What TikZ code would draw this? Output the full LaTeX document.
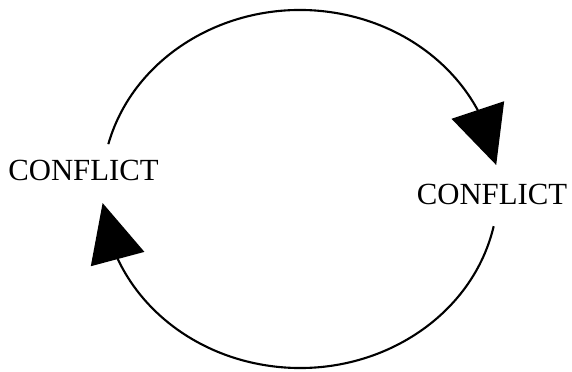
\documentclass[tikz,border=0pt]{standalone}
\usepackage{fontspec}
\setmainfont{Liberation Serif}
\usepackage{tikz}
\usetikzlibrary{arrows.meta,bending,calc,positioning}

\begin{document}
\begin{tikzpicture}[x=0.02cm,y=0.02cm,
    label/.style={font=\fontsize{17.5}{20}\selectfont, inner sep=0pt},
    cycle/.style={line width=1.2pt, -{Triangle[length=1.16cm,width=1.1cm,flex]}}]
          \useasboundingbox (0,0) rectangle (572,372);
          % Centre of the cycle
          \coordinate (O) at (300,183);
          % Labels
          \node[label] (left) at (83.5,201.5) {CONFLICT};
          \node[label] (right) at (492,177.5) {CONFLICT};
          % Upper arc, from left to right
          \draw[cycle] ($(O)+(165.5:198 and 179)$) arc[start angle=165.5, end angle=7.7, x radius=198, y radius=179];
          % Lower arc, from right back to left
          \draw[cycle] ($(O)+(-12:198 and 179)$) arc[start angle=-12, end angle=-175.5, x radius=198, y radius=179];
        \end{tikzpicture}
\end{document}
